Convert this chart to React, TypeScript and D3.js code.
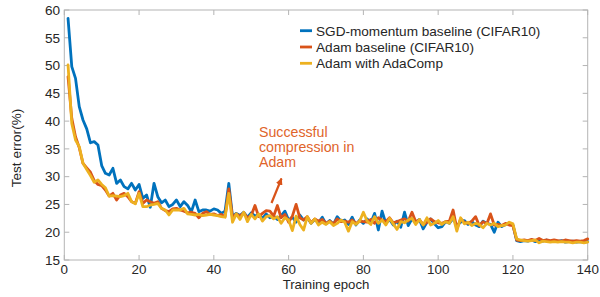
import React from "react";
import * as d3 from "d3";

const epochs: number[] = Array.from({ length: 140 }, (_, i) => i + 1);

const sgdBaseline: number[] = [
  58.5, 49.8, 47.7, 42.6, 40.2, 38.6, 36.1, 36.3, 35.7, 32.0,
  30.6, 30.3, 31.5, 28.8, 29.4, 28.2, 27.8, 28.8, 27.6, 28.6,
  26.1, 26.7, 24.5, 28.8, 26.4, 25.3, 25.8, 24.6, 25.0, 25.8,
  24.6, 25.5, 24.8, 23.7, 25.8, 23.7, 24.0, 24.0, 23.8, 24.2,
  24.0, 23.4, 23.8, 28.8, 22.8, 23.4, 23.0, 23.6, 22.7, 23.5,
  22.9, 23.2, 22.5, 23.3, 22.6, 22.9, 22.3, 23.0, 23.8, 22.2,
  22.7, 21.8, 23.1, 22.2, 22.6, 21.6, 22.3, 21.8, 22.7, 21.5,
  22.1, 21.4, 22.8, 22.0, 22.2, 21.4, 22.7, 21.3, 22.2, 21.6,
  22.4, 21.7, 23.4, 20.4, 23.8, 21.6, 22.3, 21.3, 22.0, 20.9,
  23.6, 21.2, 22.4, 21.8, 22.3, 20.6, 21.8, 22.4, 21.5, 20.8,
  21.0, 21.9, 21.6, 22.5, 21.2, 21.8, 22.1, 21.4, 21.9, 21.3,
  21.0, 22.0, 21.6, 21.4, 20.0, 21.8, 21.0, 21.4, 21.6, 21.3,
  18.5, 18.3, 18.5, 18.4, 18.6, 18.3, 18.5, 18.4, 18.6, 18.3,
  18.4, 18.3, 18.5, 18.2, 18.3, 18.4, 18.2, 18.3, 18.2, 18.3,
];

const adamBaseline: number[] = [
  48.0, 40.5, 37.2, 35.2, 32.4, 31.6, 30.8, 29.3, 28.6, 28.4,
  27.6, 26.5, 27.0, 25.8, 26.7, 27.0, 26.4, 25.5, 25.2, 27.3,
  25.2, 25.8, 25.5, 25.2, 25.5, 24.3, 23.9, 23.7, 24.2, 24.3,
  24.0, 23.8, 23.5, 23.6, 23.4, 22.6, 23.4, 23.7, 23.2, 23.3,
  23.0, 23.2, 22.8, 27.8, 22.6, 23.3, 22.9, 23.5, 22.6, 23.0,
  24.8, 22.8, 23.4, 23.9, 23.8, 22.9, 24.8, 22.6, 23.2, 21.8,
  22.9, 25.0, 22.6, 22.2, 22.8, 21.7, 22.4, 22.0, 22.3, 21.6,
  22.0, 21.5, 22.4, 21.9, 22.0, 21.8, 22.2, 21.6, 22.0, 21.9,
  21.8, 22.3, 21.6, 22.6, 22.2, 21.9, 22.6, 21.7, 21.9, 22.2,
  22.4, 22.0, 23.6, 21.9, 22.2, 21.4, 21.8, 22.4, 21.9, 21.7,
  21.6, 21.9, 22.0, 24.0, 20.6, 22.4, 21.8, 21.6, 22.0, 22.8,
  21.2, 21.9, 21.5, 23.3, 21.3, 21.4, 21.2, 21.6, 21.3, 21.2,
  18.6, 18.5, 18.6, 18.5, 18.7, 18.5, 18.9, 18.5, 18.6, 18.5,
  18.6, 18.5, 18.4, 18.6, 18.5, 18.4, 18.5, 18.4, 18.5, 18.8,
];

const adamAdaComp: number[] = [
  50.1, 39.6, 36.6, 35.4, 32.4, 31.3, 30.2, 29.0, 29.4, 28.6,
  28.0, 26.5, 26.6, 26.5, 26.4, 26.6, 27.0, 25.5, 25.1, 27.0,
  24.6, 24.6, 24.9, 25.0, 25.2, 24.3, 24.0, 23.1, 24.0, 24.0,
  24.0, 24.3, 23.3, 23.2, 23.1, 23.2, 23.0, 23.1, 23.2, 23.1,
  23.0, 22.8, 22.7, 27.0, 21.8, 23.3, 22.3, 23.6, 21.9, 23.2,
  22.4, 23.3, 22.0, 22.8, 23.0, 22.4, 22.8, 21.6, 22.6, 22.2,
  20.3, 22.9, 21.4, 20.4, 22.8, 21.6, 22.4, 21.3, 21.8, 21.4,
  21.9, 21.2, 21.6, 22.2, 21.8, 20.2, 21.9, 21.4, 22.0, 23.6,
  22.0, 21.4, 22.8, 21.6, 22.2, 21.3, 22.5, 21.5, 20.5, 21.9,
  21.7, 22.2, 22.5, 21.4, 22.3, 21.3, 22.6, 21.3, 21.6, 22.1,
  21.4, 21.9, 21.6, 22.8, 20.2, 22.6, 21.5, 21.8, 21.2, 21.6,
  21.4, 20.8, 21.6, 21.3, 21.6, 21.0, 21.2, 21.3, 21.8, 21.5,
  18.8, 18.6, 18.5, 18.4, 18.5, 18.6, 18.1, 18.4, 18.3, 18.2,
  18.3, 18.2, 18.3, 18.2, 18.2, 18.1, 18.2, 18.2, 18.1, 18.2,
];

const seriesNames: string[] = [
  "SGD-momentum baseline (CIFAR10)",
  "Adam baseline (CIFAR10)",
  "Adam with AdaComp",
];
const seriesColors: string[] = ["#0072BD", "#D95319", "#EDB120"];
const xTicks: number[] = [0, 20, 40, 60, 80, 100, 120, 140];
const yTicks: number[] = [15, 20, 25, 30, 35, 40, 45, 50, 55, 60];
const annotationLines: string[] = ["Successful", "compression in", "Adam"];

export default function App() {
  const W = 600;
  const H = 297;
  const left = 64.3;
  const right = 587.7;
  const top = 10;
  const bottom = 260;
  const x = d3.scaleLinear().domain([0, 140]).range([left, right]);
  const y = d3.scaleLinear().domain([15, 60]).range([bottom, top]);
  const line = d3
    .line<number>()
    .x((_, i) => x(epochs[i]))
    .y((d) => y(d));
  const allSeries = [sgdBaseline, adamBaseline, adamAdaComp];
  const font = "'Liberation Sans', Arial, Helvetica, sans-serif";
  const axisColor = "#b4b4b4";
  const textColor = "#262626";
  const tickLen = 5;

  return (
    <svg
      width={W}
      height={H}
      style={{ position: "absolute", left: 0, top: 0, background: "#fff" }}
      fontFamily={font}
    >
      <rect x={0} y={0} width={W} height={H} fill="#fff" />
      <rect
        x={left}
        y={top}
        width={right - left}
        height={bottom - top}
        fill="none"
        stroke={axisColor}
        strokeWidth={1}
      />
      {xTicks.map((t) => (
        <g key={"xt" + t}>
          <line x1={x(t)} x2={x(t)} y1={bottom} y2={bottom - tickLen} stroke={axisColor} />
          <line x1={x(t)} x2={x(t)} y1={top} y2={top + tickLen} stroke={axisColor} />
          <text x={x(t)} y={274.3} fontSize={13.4} fill={textColor} textAnchor="middle">
            {t}
          </text>
        </g>
      ))}
      {yTicks.map((t) => (
        <g key={"yt" + t}>
          <line x1={left} x2={left + tickLen} y1={y(t)} y2={y(t)} stroke={axisColor} />
          <line x1={right} x2={right - tickLen} y1={y(t)} y2={y(t)} stroke={axisColor} />
          <text x={60} y={y(t) + 4.8} fontSize={13.6} fill={textColor} textAnchor="end">
            {t}
          </text>
        </g>
      ))}
      <text x={326} y={289.3} fontSize={13.2} fill={textColor} textAnchor="middle">
        Training epoch
      </text>
      <text
        transform={`translate(21,148) rotate(-90)`}
        fontSize={13.6}
        fill={textColor}
        textAnchor="middle"
      >
        Test error(%)
      </text>
      <g fill="none" strokeLinejoin="round" strokeLinecap="round">
        {allSeries.map((s, i) => (
          <path key={"s" + i} d={line(s) || ""} stroke={seriesColors[i]} strokeWidth={2.8} />
        ))}
      </g>
      {seriesNames.map((n, i) => (
        <g key={"lg" + i}>
          <line
            x1={300}
            x2={312}
            y1={30.7 + i * 16.3}
            y2={30.7 + i * 16.3}
            stroke={seriesColors[i]}
            strokeWidth={2.8}
          />
          <text x={316} y={30.7 + i * 16.3 + 4.8} fontSize={13.6} fill={textColor}>
            {n}
          </text>
        </g>
      ))}
      {annotationLines.map((l, i) => (
        <text key={"an" + i} x={259} y={137 + i * 15} fontSize={14.2} fill="#E0642A">
          {l}
        </text>
      ))}
      <defs>
        <marker
          id="ah"
          viewBox="0 0 10 10"
          refX={9}
          refY={5}
          markerWidth={3.2}
          markerHeight={3.2}
          orient="auto"
        >
          <path d="M0,0 L10,5 L0,10 z" fill="#D95319" />
        </marker>
      </defs>
      <line
        x1={271.5}
        y1={203}
        x2={281.5}
        y2={178.5}
        stroke="#D95319"
        strokeWidth={2.2}
        markerEnd="url(#ah)"
      />
    </svg>
  );
}
